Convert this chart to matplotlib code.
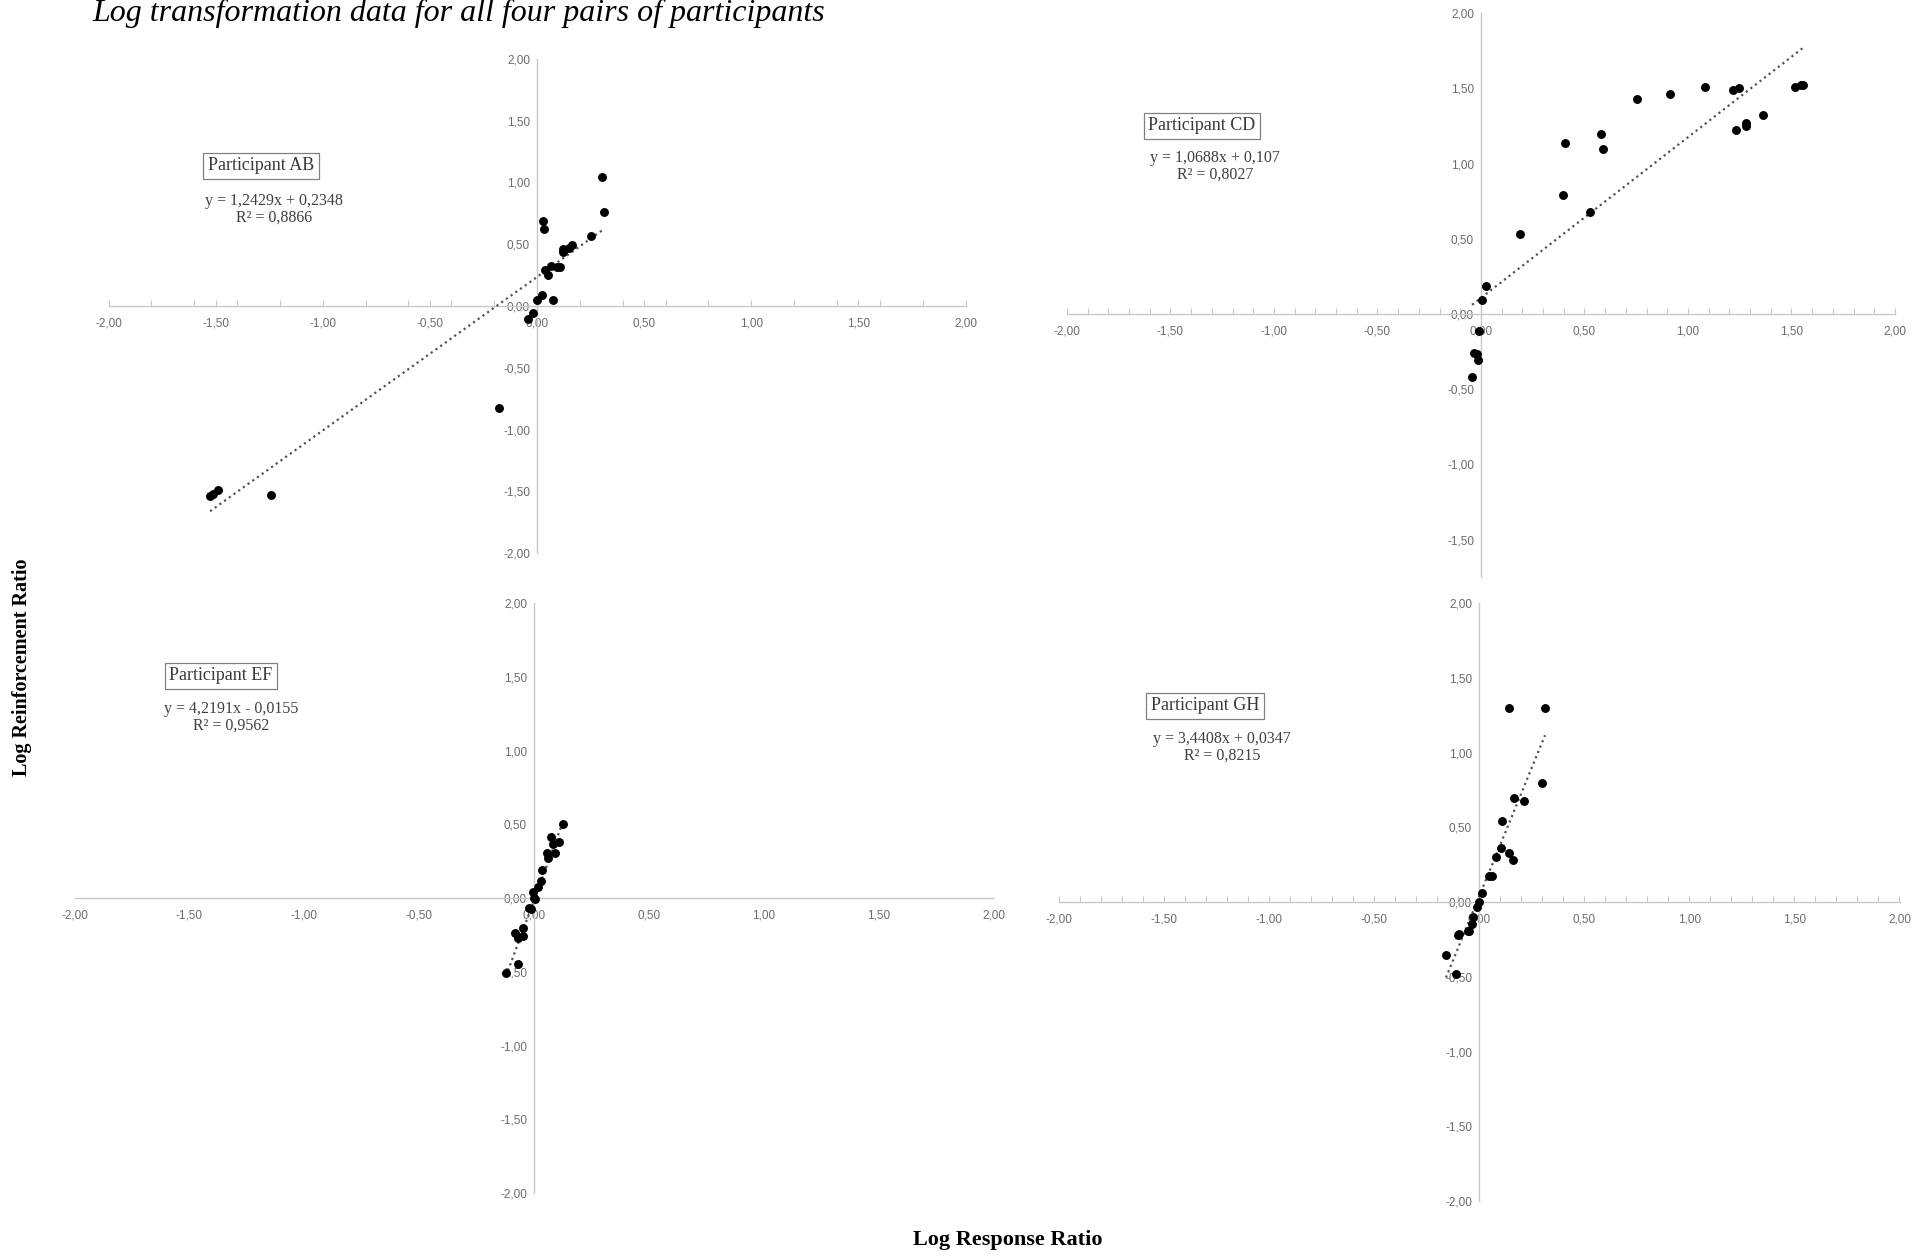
import numpy as np
import matplotlib
matplotlib.use("Agg")
import matplotlib.pyplot as plt
from matplotlib import font_manager

# ========================= DATA =========================
# pares (log response ratio, log reinforcement ratio)
ab_x = [-1.526, -1.510, -1.490, -1.243, -0.179, -0.042, -0.017, 0.002, 0.025, 0.073,
        0.050, 0.037, 0.067, 0.095, 0.108, 0.123, 0.123, 0.151, 0.162, 0.250,
        0.030, 0.033, 0.302, 0.314]
ab_y = [-1.535, -1.520, -1.490, -1.530, -0.824, -0.105, -0.059, 0.049, 0.092, 0.049,
        0.251, 0.290, 0.324, 0.318, 0.318, 0.462, 0.435, 0.467, 0.494, 0.567,
        0.688, 0.623, 1.047, 0.764]

cd_x = [-0.043, -0.032, -0.021, -0.013, -0.010, 0.005, 0.024, 0.188, 0.396, 0.406,
        0.528, 0.580, 0.589, 0.755, 0.915, 1.081, 1.217, 1.246, 1.230, 1.279,
        1.279, 1.362, 1.518, 1.546, 1.557]
cd_y = [-0.421, -0.257, -0.266, -0.306, -0.113, 0.093, 0.188, 0.530, 0.793, 1.139,
        0.678, 1.197, 1.095, 1.430, 1.460, 1.511, 1.487, 1.500, 1.223, 1.268,
        1.250, 1.321, 1.511, 1.525, 1.525]

ef_x = [-0.122, -0.068, -0.083, -0.068, -0.047, -0.047, -0.020, -0.015, -0.003, 0.001,
        0.005, 0.019, 0.030, 0.033, 0.060, 0.055, 0.091, 0.081, 0.109, 0.074, 0.128]
ef_y = [-0.510, -0.447, -0.240, -0.273, -0.258, -0.201, -0.070, -0.077, 0.038, 0.002,
        -0.005, 0.072, 0.115, 0.190, 0.269, 0.303, 0.303, 0.364, 0.382, 0.416, 0.502]

gh_x = [-0.157, -0.111, -0.102, -0.094, -0.054, -0.046, -0.032, -0.027, -0.008, 0.000,
        0.016, 0.048, 0.062, 0.079, 0.105, 0.141, 0.160, 0.111, 0.165, 0.213,
        0.301, 0.144, 0.314]
gh_y = [-0.357, -0.482, -0.220, -0.214, -0.192, -0.192, -0.147, -0.103, -0.031, 0.002,
        0.058, 0.174, 0.174, 0.301, 0.359, 0.328, 0.281, 0.541, 0.698, 0.673,
        0.798, 1.300, 1.300]

participants = ["Participant AB", "Participant CD", "Participant EF", "Participant GH"]
slopes = [1.2429, 1.0688, 4.2191, 3.4408]
intercepts = [0.2348, 0.107, -0.0155, 0.0347]
equations = ["y = 1,2429x + 0,2348\nR² = 0,8866",
             "y = 1,0688x + 0,107\nR² = 0,8027",
             "y = 4,2191x - 0,0155\nR² = 0,9562",
             "y = 3,4408x + 0,0347\nR² = 0,8215"]

tick_vals = [-2.0, -1.5, -1.0, -0.5, 0.0, 0.5, 1.0, 1.5, 2.0]
tick_labels = ["-2,00", "-1,50", "-1,00", "-0,50", "0,00", "0,50", "1,00", "1,50", "2,00"]

# ========================= LAYOUT =========================
W, H = 1926, 1256

def rect(x_left, x_right, y_top, y_bottom):
    return [x_left / W, 1 - y_bottom / H, (x_right - x_left) / W, (y_bottom - y_top) / H]

def fig_xy(x, y):
    return x / W, 1 - y / H

# caixa de cada painel (px), rótulo participante e equação (px)
panel_rects = [rect(108.5, 965.5, 59, 553),
               rect(1067, 1895, 13.2, 614.8),
               rect(74.5, 993.5, 603, 1193),
               rect(1058.5, 1899.5, 603, 1201)]
box_pos = [(261, 166), (1202, 126), (221, 676), (1205, 706)]
eq_pos = [(274, 209), (1215, 166), (231, 717), (1222, 747)]
minor_step = [0.2, 0.1, None, 0.1]

available = {f.name for f in font_manager.fontManager.ttflist}
if "Liberation Sans Narrow" in available:
    TICK_FONT, TICK_SIZE = "Liberation Sans Narrow", 10
else:
    TICK_FONT, TICK_SIZE = "Liberation Sans", 8.5
SERIF = "Liberation Serif"

AXIS_COLOR = "#c8c8c8"
LABEL_COLOR = "#6b6b6b"

fig = plt.figure(figsize=(W / 100, H / 100), dpi=100)

series = [(ab_x, ab_y), (cd_x, cd_y), (ef_x, ef_y), (gh_x, gh_y)]

for i, (xs, ys) in enumerate(series):
    ax = fig.add_axes(panel_rects[i])
    ax.set_xlim(-2, 2)
    ax.set_ylim(-2, 2)
    ax.patch.set_alpha(0)

    for side in ["top", "right"]:
        ax.spines[side].set_visible(False)
    for side in ["left", "bottom"]:
        ax.spines[side].set_position(("data", 0))
        ax.spines[side].set_color(AXIS_COLOR)
        ax.spines[side].set_linewidth(1.0)

    ax.set_xticks(tick_vals)
    ax.set_xticklabels(tick_labels)
    if i == 1:
        # parte de baixo do painel CD fica escondida pelo painel GH
        ax.spines["left"].set_bounds(-1.75, 2)
        ax.set_yticks(tick_vals[1:])
        ax.set_yticklabels(tick_labels[1:])
    else:
        ax.set_yticks(tick_vals)
        ax.set_yticklabels(tick_labels)

    if minor_step[i]:
        ax.set_xticks(np.arange(-2, 2.001, minor_step[i]), minor=True)
        ax.tick_params(axis="x", which="both", direction="in", length=4,
                       width=0.8, color=AXIS_COLOR)
    else:
        ax.tick_params(axis="x", which="both", length=0)
    ax.tick_params(axis="x", which="major", pad=8)
    ax.tick_params(axis="y", which="both", length=0, pad=5)
    for lab in ax.get_xticklabels() + ax.get_yticklabels():
        lab.set_fontfamily(TICK_FONT)
        lab.set_fontsize(TICK_SIZE)
        lab.set_color(LABEL_COLOR)

    # linha de tendência no intervalo dos dados
    xr = np.array([min(xs), max(xs)])
    ax.plot(xr, slopes[i] * xr + intercepts[i], linestyle=(0, (1, 1.6)),
            color="#555555", linewidth=1.6, zorder=3)
    ax.plot(xs, ys, "o", color="black", markersize=5.4, zorder=4)

    bx, by = fig_xy(*box_pos[i])
    fig.text(bx, by, participants[i], family=SERIF, fontsize=13, color="#3a3a3a",
             ha="center", va="center",
             bbox=dict(boxstyle="square,pad=0.25", facecolor="white",
                       edgecolor="#808080", linewidth=0.9))
    ex, ey = fig_xy(*eq_pos[i])
    fig.text(ex, ey, equations[i], family=SERIF, fontsize=11.5, color="#404040",
             ha="center", va="center", multialignment="center", linespacing=1.05)

# ========================= TEXTOS =========================
tx, ty = fig_xy(92, 21)
fig.text(tx, ty, "Log transformation data for all four pairs of participants",
         family=SERIF, style="italic", fontsize=23, color="black",
         ha="left", va="baseline")

lx, ly = fig_xy(22, 667)
fig.text(lx, ly, "Log Reinforcement Ratio", family=SERIF, weight="bold",
         fontsize=14.5, rotation=90, ha="center", va="center")

xx, xy = fig_xy(1008, 1240)
fig.text(xx, xy, "Log Response Ratio", family=SERIF, weight="bold",
         fontsize=16, ha="center", va="center")

fig.savefig("out.png", dpi=100)
